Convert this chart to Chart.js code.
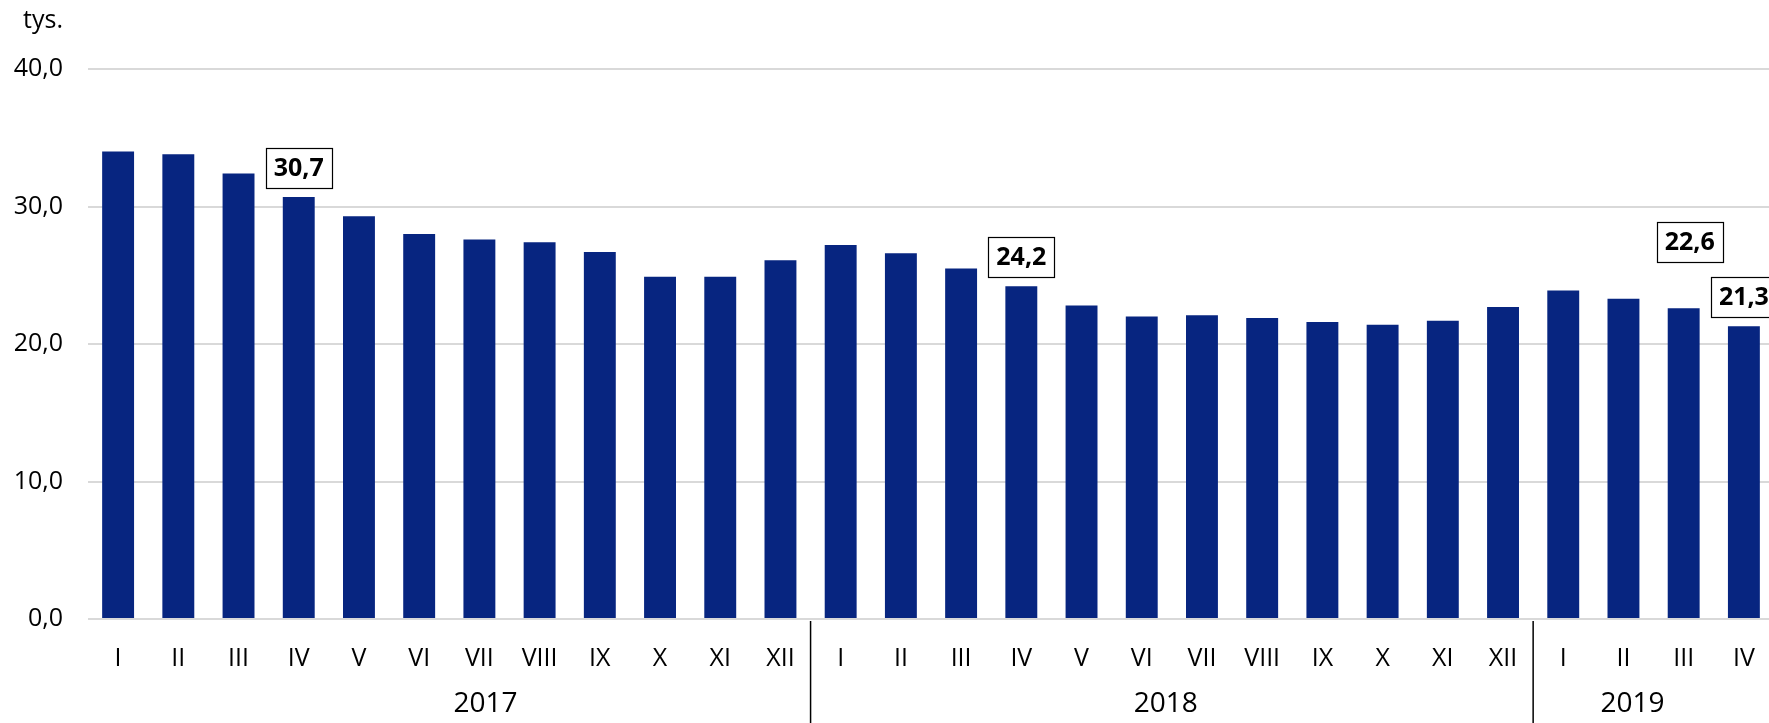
<!DOCTYPE html>
<html>
<head>
<meta charset="utf-8">
<script src="https://cdn.jsdelivr.net/npm/chart.js@4"></script>
<style>
  html, body { margin: 0; padding: 0; background: #fff; overflow: hidden; }
  canvas { display: block; }
</style>
</head>
<body>
<canvas id="myChart" width="1774" height="723"></canvas>
<script>
const months = [
  'I', 'II', 'III', 'IV', 'V', 'VI', 'VII', 'VIII', 'IX', 'X', 'XI', 'XII',
  'I', 'II', 'III', 'IV', 'V', 'VI', 'VII', 'VIII', 'IX', 'X', 'XI', 'XII',
  'I', 'II', 'III', 'IV',
]
const values = [
  34.0, 33.8, 32.4, 30.7, 29.3, 28.0, 27.6, 27.4, 26.7, 24.9, 24.9, 26.1,
  27.2, 26.6, 25.5, 24.2, 22.8, 22.0, 22.1, 21.9, 21.6, 21.4, 21.7, 22.7,
  23.9, 23.3, 22.6, 21.3,
]
const years = ['2017', '2018', '2019']
const monthsPerYear = [12, 12, 4]
const labelled = [3, 15, 26, 27]
const yTicks = [0, 10, 20, 30, 40]

const fontFamily = '"Open Sans", "DejaVu Sans", sans-serif'
const fmt = v => v.toFixed(1).replace('.', ',')

// value boxes, year labels, year separators, unit
const extras = {
  id: 'extras',
  afterDatasetsDraw: (chart, args, opts) => {
    const { ctx, chartArea } = chart
    const x = chart.scales.x
    const y = chart.scales.y
    ctx.save()

    // boxed value labels
    ctx.font = 'bold 25px ' + fontFamily
    ctx.textAlign = 'center'
    ctx.textBaseline = 'middle'
    labelled.forEach((i, k) => {
      const w = 66
      const h = 40
      const cx = x.getPixelForValue(i) + opts.boxDx[k]
      const bottom = y.getPixelForValue(values[i]) - opts.boxGap[k]
      ctx.fillStyle = '#fff'
      ctx.fillRect(cx - w / 2, bottom - h, w, h)
      ctx.strokeStyle = '#000'
      ctx.lineWidth = 1.2
      ctx.strokeRect(Math.round(cx - w / 2) + 0.5, Math.round(bottom - h) + 0.5, w, h)
      ctx.fillStyle = '#000'
      ctx.fillText(fmt(values[i]), cx, bottom - h / 2 + 1)
    })

    // separators between years
    ctx.strokeStyle = '#000'
    ctx.lineWidth = 1.5
    let start = 0
    monthsPerYear.forEach((n, k) => {
      const end = start + n
      if (end < values.length) {
        const sx = (x.getPixelForValue(end - 1) + x.getPixelForValue(end)) / 2
        ctx.beginPath()
        ctx.moveTo(sx, chartArea.bottom + 2)
        ctx.lineTo(sx, chart.height)
        ctx.stroke()
      }
      start = end
    })

    // year labels
    ctx.font = '28px ' + fontFamily
    ctx.fillStyle = '#000'
    years.forEach((yr, k) => {
      const pos = opts.yearAt[k]
      const i0 = Math.floor(pos)
      const px = x.getPixelForValue(i0) + (pos - i0) * (x.getPixelForValue(1) - x.getPixelForValue(0))
      ctx.fillText(yr, px, chartArea.bottom + 85)
    })

    // unit
    ctx.font = '25px ' + fontFamily
    ctx.textAlign = 'right'
    ctx.fillText('tys.', y.right - 25, chartArea.top - 48)
    ctx.restore()
  },
}

const data = {
  labels: months,
  datasets: [
    {
      label: 'tys.',
      data: values,
      backgroundColor: '#072580',
      barPercentage: 0.53,
      categoryPercentage: 1,
    },
  ],
}

const options = {
  animation: false,
  responsive: false,
  layout: {
    padding: { top: 69, left: 0, right: 0, bottom: 0 },
  },
  scales: {
    x: {
      grid: { display: false },
      border: { display: false },
      ticks: {
        color: '#000',
        padding: 17,
        autoSkip: false,
        maxRotation: 0,
        font: { family: fontFamily, size: 25 },
      },
      afterFit: scale => {
        scale.height = 104
      },
    },
    y: {
      min: 0,
      max: 40,
      afterBuildTicks: scale => {
        scale.ticks = yTicks.map(v => ({ value: v }))
      },
      grid: {
        color: '#d9d9d9',
        lineWidth: 2,
        drawTicks: false,
      },
      border: { display: false },
      ticks: {
        color: '#000',
        padding: 25,
        font: { family: fontFamily, size: 25 },
        callback: v => fmt(v),
      },
      afterFit: scale => {
        scale.width = 88
      },
    },
  },
  plugins: {
    legend: { display: false },
    tooltip: { enabled: false },
    extras: {
      boxDx: [0, 0, 6, 0],
      boxGap: [9, 9, 46, 9],
      yearAt: [6.1, 17.4, 25.15],
    },
  },
}

const ctx = document.getElementById('myChart')
const myChart = new Chart(ctx, {
  type: 'bar',
  data,
  plugins: [extras],
  options,
})
</script>
</body>
</html>
